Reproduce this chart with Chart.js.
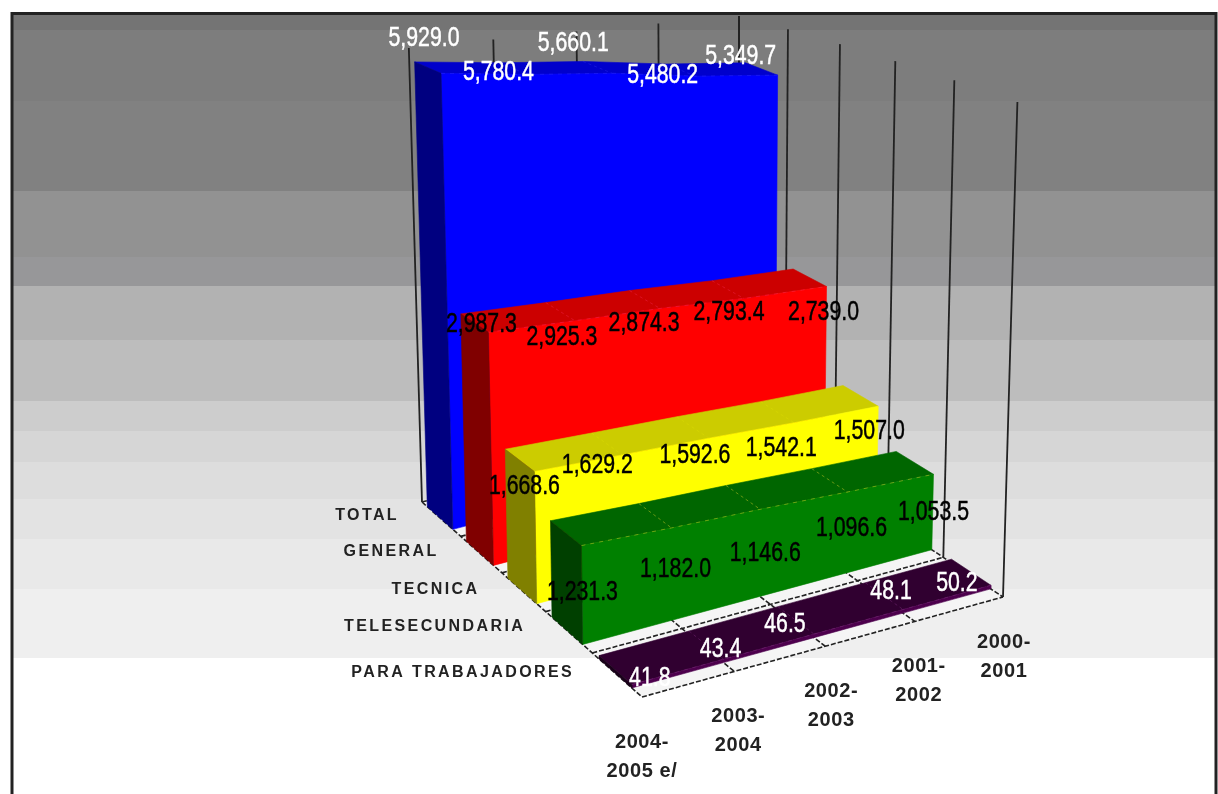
<!DOCTYPE html>
<html>
<head>
<meta charset="utf-8">
<title>Secundaria</title>
<script src="https://cdn.jsdelivr.net/npm/chart.js@4/dist/chart.umd.min.js"></script>
<style>
  html, body { margin: 0; padding: 0; background: #fff; }
  canvas { display: block; }
</style>
</head>
<body>
<canvas id="chart" width="1218" height="794"></canvas>
<script>
const categories = [["2004-", "2005 e/"], ["2003-", "2004"], ["2002-", "2003"], ["2001-", "2002"], ["2000-", "2001"]];
const seriesNames = ["TOTAL", "GENERAL", "TECNICA", "TELESECUNDARIA", "PARA TRABAJADORES"];
const total = [5929.0, 5780.4, 5660.1, 5480.2, 5349.7];
const general = [2987.3, 2925.3, 2874.3, 2793.4, 2739.0];
const tecnica = [1668.6, 1629.2, 1592.6, 1542.1, 1507.0];
const telesecundaria = [1231.3, 1182.0, 1146.6, 1096.6, 1053.5];
const trabajadores = [41.8, 43.4, 46.5, 48.1, 50.2];
const seriesValues = [total, general, tecnica, telesecundaria, trabajadores];
const axisMax = 6000;

// colours: front, top, side, crease
const seriesColors = [
  ["#0000ff", "#0000cc", "#000080", "rgba(60,60,255,.3)"],
  ["#ff0000", "#cc0000", "#800000", "rgba(255,60,120,.3)"],
  ["#ffff00", "#cccc00", "#808000", "rgba(255,255,0,.15)"],
  ["#008000", "#006600", "#004000", "rgba(200,200,40,.5)"],
  ["#4d004d", "#300030", "#1a001a", "rgba(120,40,120,.5)"]
];
const labelColors = ["#fff", "#000", "#000", "#000", "#fff"];

const bandTops = [14, 30, 101, 191, 257, 286, 340, 401, 431, 462, 499, 539, 589, 658];
const bandColors = ["#747474", "#7d7d7d", "#818181", "#929292", "#979799", "#b2b2b2", "#bdbdbd", "#cdcdcd", "#d6d6d6", "#dddddd", "#e3e3e3", "#e9e9e9", "#efefef", "#ffffff"];

// label offsets from the point they belong to
const valueNudge = [
  [[-17, -35], [-29, -2], [-39, -30], [-33, -1], [-37, -19]],
  [[-7, -8], [-13, 17], [-16, 15], [-15, 14], [-3, 26]],
  [[-10, 15], [-25, 10], [-14, 17], [-13, 26], [-9, 25]],
  [[1, 47], [4, 41], [5, 44], [4, 36], [0, 38]],
  [[18, -6], [-3, -10], [-29, -10], [-12, -18], [-34, -2]]
];
const seriesNudge = [[-74, -3], [-90, -3], [-88, -2], [-134, -5], [-154, -2]];
const yearNudge = [0, 4, 6, 4, 1];

// floor corners in the picture: back left, back right, front right, front left
const floor = [[422, 502], [738, 421], [1003, 597], [642, 697]];
// height of the full axis at the same corners, for the wall lines and for the ribbons
const wallHeights = [454, 405, 495, 505];
const ribbonHeights = [456, 412, 435, 490];
const ribbonBack = 0.14;
const ribbonFront = 0.8;
const backEdgeShrink = 0.985;

const dx1 = floor[1][0] - floor[2][0], dx2 = floor[3][0] - floor[2][0];
const dy1 = floor[1][1] - floor[2][1], dy2 = floor[3][1] - floor[2][1];
const sx = floor[0][0] - floor[1][0] + floor[2][0] - floor[3][0];
const sy = floor[0][1] - floor[1][1] + floor[2][1] - floor[3][1];
const den = dx1 * dy2 - dx2 * dy1;
const g = (sx * dy2 - dx2 * sy) / den;
const h = (dx1 * sy - sx * dy1) / den;

// c = category position, s = depth row, v = value
function project(c, s, v, heights = ribbonHeights) {
  const u = c / (categories.length - 1);
  const t = s / seriesNames.length;
  const w = g * u + h * t + 1;
  const x = ((floor[1][0] - floor[0][0] + g * floor[1][0]) * u + (floor[3][0] - floor[0][0] + h * floor[3][0]) * t + floor[0][0]) / w;
  const y = ((floor[1][1] - floor[0][1] + g * floor[1][1]) * u + (floor[3][1] - floor[0][1] + h * floor[3][1]) * t + floor[0][1]) / w;
  const full = heights[0] * (1 - u) * (1 - t) + heights[1] * u * (1 - t) + heights[2] * u * t + heights[3] * (1 - u) * t;
  const height = full * v / axisMax;
  return { x: x + (x - 712) * height * 0.0001, y: y - height };
}

const datasets = [];

function addShape(points, color) {
  datasets.push({
    data: points.concat([points[0]]),
    fill: "shape",
    backgroundColor: color,
    borderColor: color,
    borderWidth: 0.6,
    pointRadius: 0,
    tension: 0
  });
}

function addLine(points, color, width, dash) {
  datasets.push({
    data: points,
    fill: false,
    borderColor: color,
    borderWidth: width,
    borderDash: dash || [],
    pointRadius: 0,
    tension: 0
  });
}

const lastCat = categories.length - 1;
const rows = seriesNames.length;

// walls
categories.forEach((_, c) => addLine([project(c, 0, 0, wallHeights), project(c, 0, axisMax, wallHeights)], "#222", 1.8));
for (let s = 0; s <= rows; s++) addLine([project(lastCat, s, 0, wallHeights), project(lastCat, s, axisMax, wallHeights)], "#222", 1.8);

// floor
addShape([project(0, 0, 0), project(lastCat, 0, 0), project(lastCat, rows, 0), project(0, rows, 0)], "#f5f5f5");
for (let s = 0; s <= rows; s++) addLine([project(0, s, 0), project(lastCat, s, 0)], "#222", 1.6, [5, 2]);
categories.forEach((_, c) => addLine([project(c, 0, 0), project(c, rows, 0)], "#222", 1.6, [5, 2]));

// ribbons, back row first
seriesValues.forEach((values, i) => {
  const back = i + ribbonBack;
  const front = i + ribbonFront;
  const [frontColor, topColor, sideColor, crease] = seriesColors[i];
  const cats = values.map((_, c) => c);
  const backTop = c => project(c, back, values[c] * backEdgeShrink);

  addShape(
    cats.map(backTop).concat(cats.slice().reverse().map(c => project(c, front, values[c]))),
    topColor
  );
  addShape(
    cats.map(c => project(c, front, values[c])).concat(cats.slice().reverse().map(c => project(c, front, 0))),
    frontColor
  );
  addShape([backTop(0), project(0, front, values[0]), project(0, front, 0), project(0, back, 0)], sideColor);

  for (let c = 1; c < lastCat; c++) {
    addLine([backTop(c), project(c, front, values[c])], crease, 1, [3, 3]);
  }
  addLine(cats.map(c => project(c, front, values[c])), crease, 1, [4, 5]);
});

datasets.forEach((d, i) => { d.order = datasets.length - i; });

function drawStretched(ctx, text, x, y, stretch) {
  ctx.save();
  ctx.translate(x, y);
  ctx.scale(stretch, 1);
  ctx.fillText(text, 0, 0);
  ctx.strokeText(text, 0, 0);
  ctx.restore();
}

const backdrop = {
  id: "backdrop",
  beforeDatasetsDraw(chart) {
    const { ctx, scales: { x, y } } = chart;
    ctx.save();
    bandTops.forEach((top, i) => {
      const bottom = i + 1 < bandTops.length ? bandTops[i + 1] : 794;
      ctx.fillStyle = bandColors[i];
      ctx.fillRect(x.getPixelForValue(12), y.getPixelForValue(top), x.getPixelForValue(1216) - x.getPixelForValue(12), y.getPixelForValue(bottom) - y.getPixelForValue(top));
    });
    ctx.restore();
  },
  afterDatasetsDraw(chart) {
    const { ctx, scales: { x, y } } = chart;
    ctx.save();
    // frame
    ctx.strokeStyle = "#222";
    ctx.lineWidth = 3;
    ctx.beginPath();
    ctx.moveTo(x.getPixelForValue(12), y.getPixelForValue(794));
    ctx.lineTo(x.getPixelForValue(12), y.getPixelForValue(13.5));
    ctx.lineTo(x.getPixelForValue(1216), y.getPixelForValue(13.5));
    ctx.lineTo(x.getPixelForValue(1216), y.getPixelForValue(794));
    ctx.stroke();

    ctx.textAlign = "center";
    ctx.textBaseline = "middle";

    // values
    ctx.font = "28px 'Liberation Sans'";
    ctx.lineWidth = 0.5;
    seriesValues.forEach((values, i) => {
      ctx.fillStyle = labelColors[i];
      ctx.strokeStyle = labelColors[i];
      values.forEach((v, c) => {
        const p = project(c, i + ribbonFront, v);
        const text = v.toLocaleString("en-US", { minimumFractionDigits: 1, maximumFractionDigits: 1 });
        drawStretched(ctx, text, x.getPixelForValue(p.x + valueNudge[i][c][0]), y.getPixelForValue(p.y + valueNudge[i][c][1]), 0.76);
      });
    });

    // row names
    ctx.fillStyle = "#222";
    ctx.font = "bold 16px 'Liberation Sans'";
    ctx.letterSpacing = "2.4px";
    seriesNames.forEach((name, i) => {
      const p = project(0, i + 0.5, 0);
      ctx.fillText(name, x.getPixelForValue(p.x + seriesNudge[i][0]), y.getPixelForValue(p.y + seriesNudge[i][1]));
    });

    // years
    ctx.font = "bold 20px 'Liberation Sans'";
    ctx.letterSpacing = "0.6px";
    categories.forEach((lines, c) => {
      const p = project(c, rows, 0);
      lines.forEach((line, n) => {
        ctx.fillText(line, x.getPixelForValue(p.x + yearNudge[c]), y.getPixelForValue(p.y + 45 + n * 29));
      });
    });
    ctx.restore();
  }
};

new Chart(document.getElementById("chart"), {
  type: "line",
  data: { datasets },
  plugins: [backdrop],
  options: {
    responsive: false,
    animation: false,
    parsing: { xAxisKey: "x", yAxisKey: "y" },
    layout: { padding: 0 },
    plugins: { legend: { display: false }, tooltip: { enabled: false } },
    scales: {
      x: { type: "linear", min: 0, max: 1218, display: false },
      y: { type: "linear", min: 0, max: 794, reverse: true, display: false }
    }
  }
});
</script>
</body>
</html>
